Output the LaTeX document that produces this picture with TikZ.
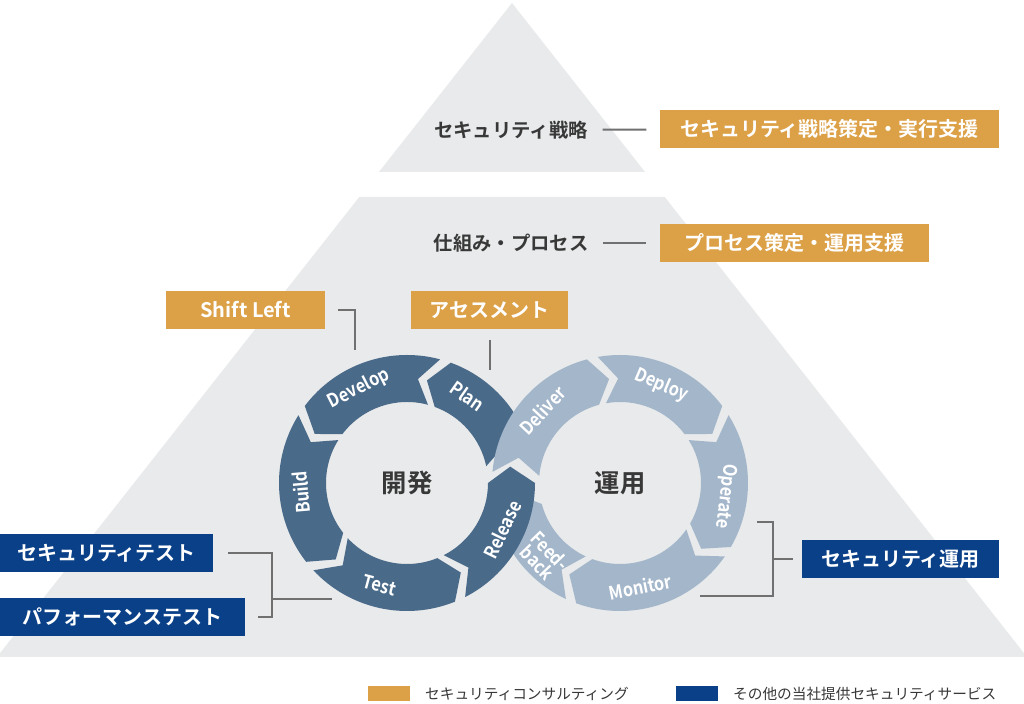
\documentclass[tikz,border=0pt]{standalone}
\usepackage{fontspec}
\setmainfont{Noto Sans CJK JP}
\newfontfamily\jpbold{Noto Sans CJK JP Bold}
\usetikzlibrary{positioning}

\definecolor{pyrgray}{HTML}{E8EAEB}
\definecolor{devblue}{HTML}{4A6A8A}
\definecolor{opsblue}{HTML}{A3B6CA}
\definecolor{consult}{HTML}{DCA046}
\definecolor{service}{HTML}{0A4088}
\definecolor{ink}{HTML}{383838}
\definecolor{linegray}{HTML}{707070}

\begin{document}
\begin{tikzpicture}[x=0.75pt, y=0.75pt,
    box/.style={minimum height=28.5pt, inner sep=0pt, text=white,
                font=\jpbold\fontsize{15}{18}\selectfont},
    consultbox/.style={box, fill=consult},
    servicebox/.style={box, fill=service},
    tier/.style={text=ink, inner sep=0pt, font=\jpbold\fontsize{14.5}{17}\selectfont},
    link/.style={draw=linegray, line width=1.5pt},
    devseg/.style={fill=devblue},
    opsseg/.style={fill=opsblue},
    seglabel/.style={text=white, align=center, inner sep=0pt,
                     font=\jpbold\fontsize{14}{13}\selectfont},
    hub/.style={text=ink, font=\jpbold\fontsize{19}{22}\selectfont},
    legendkey/.style={minimum width=31.5pt, minimum height=11.25pt, inner sep=0pt},
    legendtext/.style={text=ink, inner sep=0pt, font=\fontsize{11}{13}\selectfont}]

    \useasboundingbox (0,0) rectangle (1024,703);
    \clip (0,0) rectangle (1024,703);
    \fill[white] (0,0) rectangle (1024,703);

    % Pyramid (top tier and lower tier)
    \fill[pyrgray] (512,700) -- (645,531) -- (379,531) -- cycle;
    \fill[pyrgray] (359.3,506) -- (664.7,506) -- (1027,46) -- (-3,46) -- cycle;

    % Tier labels and consulting boxes
    \node[tier] (stratlbl) at (511,573) {セキュリティ戦略};
    \node[consultbox, minimum width=254.25pt] (stratbox) at (829.5,574) {セキュリティ戦略策定・実行支援};
    \node[tier] (proclbl) at (511,460) {仕組み・プロセス};
    \node[consultbox, minimum width=201.75pt] (procbox) at (794.5,460) {プロセス策定・運用支援};
    \draw[link, shorten <=11pt, shorten >=10pt] (stratlbl) -- (stratbox);
    \draw[link, shorten <=11pt, shorten >=10pt] (proclbl) -- (procbox);

    \node[consultbox, minimum width=119.25pt] (shiftleft) at (245.5,393) {Shift Left};
    \node[consultbox, minimum width=117.75pt] (assess) at (489.5,393) {アセスメント};

    % Development loop (dark), Release drawn last
    \foreach \a/\b in {12/70, 75/143, 148/218, 223/292}
        \fill[devseg, shift={(407,220)}] (\a:128) arc[start angle=\a, end angle=\b, radius=128]
            -- (\b+9:104.5) -- (\b:81) arc[start angle=\b, end angle=\a, radius=81]
            -- (\a+9:104.5) -- cycle;

    % Operation loop (light)
    \foreach \a/\b in {175/105, 100/37, 32/-30, -35/-110, -115/-165}
        \fill[opsseg, shift={(620,220)}] (\a:128) arc[start angle=\a, end angle=\b, radius=128]
            -- (\b-9:104.5) -- (\b:81) arc[start angle=\b, end angle=\a, radius=81]
            -- (\a-9:104.5) -- cycle;

    \fill[devseg, shift={(407,220)}] (297:128) arc[start angle=297, end angle=360, radius=128]
        -- (369:104.5) -- (360:81) arc[start angle=360, end angle=297, radius=81]
        -- (306:104.5) -- cycle;

    % Segment labels
    \begin{scope}[shift={(407,220)}]
        \foreach \t/\ang/\rot [count=\i] in {Plan/55/-35, Develop/117/27, Build/185/95,
                                              Test/255/345, Release/334/64}
            \node[seglabel, rotate=\rot, xscale=0.88] (dev\i) at (\ang:106) {\t};
    \end{scope}
    \begin{scope}[shift={(620,220)}]
        \foreach \t/\ang/\rot [count=\i] in {Deliver/137/47, Deploy/67/-23, Operate/-7/-97,
                                              Monitor/-79/11, Feed-\\back/-136/-46}
            \node[seglabel, rotate=\rot, xscale=0.88] (ops\i) at (\ang:106) {\t};
    \end{scope}

    \node[hub] (devhub) at (407,220) {開発};
    \node[hub] (opshub) at (620,220) {運用};

    % Connectors to the loops
    \coordinate (devtop) at (355,353);
    \coordinate (plantop) at (489.5,333);
    \draw[link] ([shift={(13,0)}]shiftleft.east) -| (devtop);
    \draw[link] ([shift={(0,-11)}]assess.south) -- (plantop);

    % Test services (left)
    \node[servicebox, minimum width=159.75pt] (sectest) at (106.5,150) {セキュリティテスト};
    \node[servicebox, minimum width=183.75pt] (perftest) at (122.5,86) {パフォーマンステスト};
    \coordinate (testjoin) at (272,104);
    \coordinate (testend) at (332,104);
    \draw[link] ([shift={(15,0)}]sectest.east) -| (testjoin |- perftest.east)
        -- ([shift={(13,0)}]perftest.east);
    \draw[link] (testjoin) -- (testend);

    % Operation service (right)
    \node[servicebox, minimum width=147.75pt] (secops) at (900.5,144) {セキュリティ運用};
    \coordinate (opstop) at (757,181);
    \coordinate (opsbot) at (700,107);
    \coordinate (opsjoin) at (773,144);
    \draw[link] (opstop) -| (opsjoin |- opsbot) -- (opsbot);
    \draw[link] (opsjoin) -- ([shift={(-9,0)}]secops.west);

    % Legend
    \node[legendkey, fill=consult] (keyconsult) at (389,9.5) {};
    \node[legendtext, right=11pt of keyconsult] (txtconsult) {セキュリティコンサルティング};
    \node[legendkey, fill=service] (keyservice) at (697,9.5) {};
    \node[legendtext, right=11pt of keyservice] (txtservice) {その他の当社提供セキュリティサービス};

\end{tikzpicture}
\end{document}
